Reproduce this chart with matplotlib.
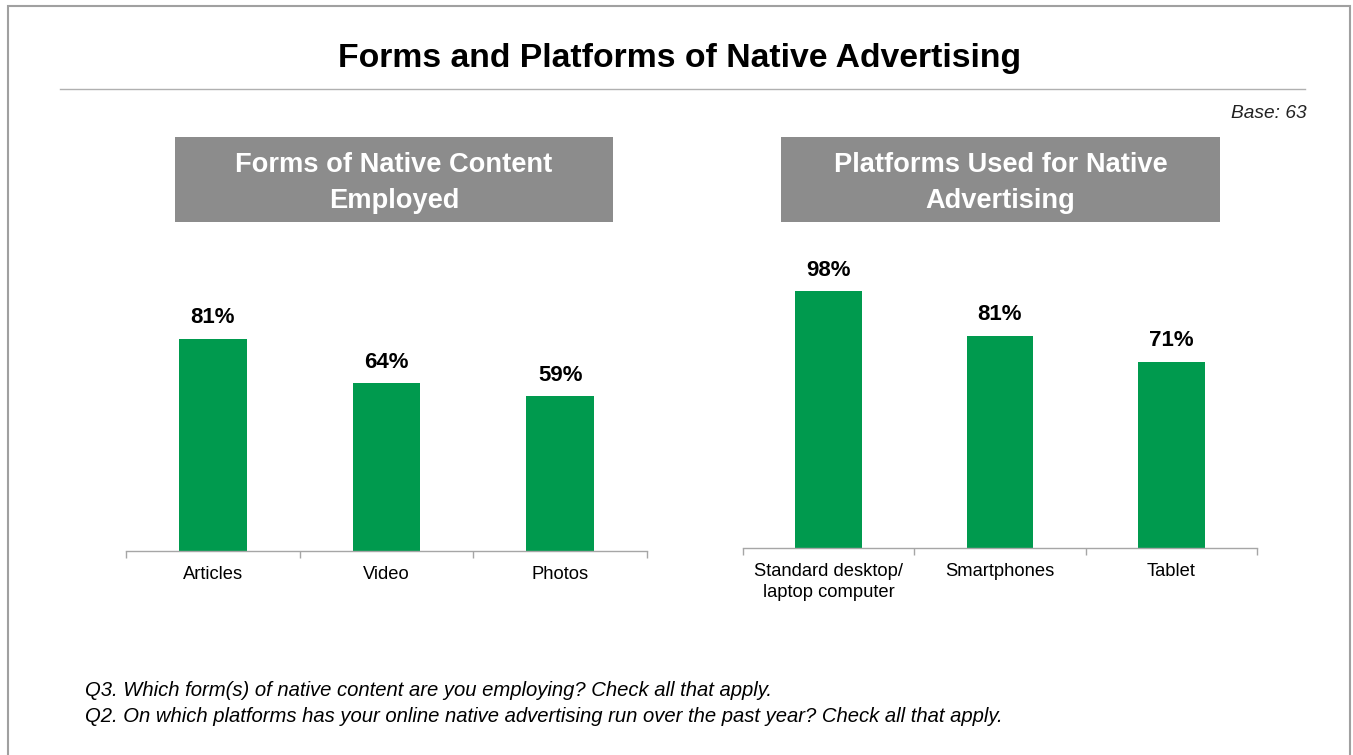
import matplotlib
matplotlib.use("Agg")
import matplotlib.pyplot as plt
from matplotlib.patches import Rectangle
from matplotlib.lines import Line2D
import numpy as np

# ---- data ----
title = "Forms and Platforms of Native Advertising"
base_note = "Base: 63"
left_title = "Forms of Native Content\nEmployed"
left_categories = ["Articles", "Video", "Photos"]
left_values = [81, 64, 59]
right_title = "Platforms Used for Native\nAdvertising"
right_categories = ["Standard desktop/\nlaptop computer", "Smartphones", "Tablet"]
right_values = [98, 81, 71]
footnotes = [
    "Q3. Which form(s) of native content are you employing? Check all that apply.",
    "Q2. On which platforms has your online native advertising run over the past year? Check all that apply.",
]

GREEN = "#009A4E"
HEADER_GRAY = "#8C8C8C"
AXIS_GRAY = "#A6A6A6"
FONT = ["Liberation Sans Narrow", "Liberation Sans", "DejaVu Sans"]
plt.rcParams["font.family"] = FONT

W, H = 1353, 755
fig = plt.figure(figsize=(W / 100, H / 100), dpi=100)
fig.patch.set_facecolor("white")


def fx(x):
    return x / W


def fy(y):
    return 1 - y / H


# outer border
fig.add_artist(Rectangle((fx(8), fy(775)), fx(1350) - fx(8), fy(6) - fy(775),
                         transform=fig.transFigure, fill=False,
                         edgecolor="#A0A0A0", linewidth=1.5, clip_on=False))

# title
fig.text(fx(680), fy(58.5), title, ha="center", va="center",
         fontsize=24.3, fontweight="bold", color="black")
fig.add_artist(Line2D([fx(60), fx(1305)], [fy(89), fy(89)],
                      transform=fig.transFigure, color="#B0B0B0", linewidth=1))
fig.text(fx(1307), fy(114), base_note, ha="right", va="center",
         fontsize=13.8, style="italic", color="#222222")


def panel(x0, x1, baseline, header_x0, header_x1, header_text, cats, vals):
    # header box
    fig.add_artist(Rectangle((fx(header_x0), fy(222)), fx(header_x1) - fx(header_x0),
                             fy(137) - fy(222), transform=fig.transFigure,
                             facecolor=HEADER_GRAY, edgecolor="none"))
    fig.text(fx((header_x0 + header_x1) / 2), fy(183), header_text,
             ha="center", va="center", fontsize=19.6, fontweight="bold",
             color="white", linespacing=1.45)
    scale = 2.62  # px per percent
    top = baseline - 100 * scale
    ax = fig.add_axes([fx(x0), fy(baseline), fx(x1) - fx(x0), fy(top) - fy(baseline)])
    xs = np.arange(len(cats))
    ax.bar(xs, vals, width=0.39, color=GREEN)
    ax.set_xlim(-0.5, len(cats) - 0.5)
    ax.set_ylim(0, 100)
    for x, v in zip(xs, vals):
        ax.text(x, v + 4, f"{v}%", ha="center", va="bottom",
                fontsize=16, fontweight="bold", color="black")
    for s in ["top", "right", "left"]:
        ax.spines[s].set_visible(False)
    ax.spines["bottom"].set_color(AXIS_GRAY)
    ax.spines["bottom"].set_linewidth(1)
    ax.set_yticks([])
    ax.set_xticks(np.arange(len(cats) + 1) - 0.5, minor=False)
    ax.set_xticklabels([""] * (len(cats) + 1))
    ax.tick_params(axis="x", direction="out", length=5, color=AXIS_GRAY, width=1)
    for x, c in zip(xs, cats):
        ax.text(x, -0.057, c, transform=ax.get_xaxis_transform(), ha="center",
                va="top", fontsize=13.2, color="black", linespacing=1.3)
    ax.patch.set_visible(False)
    return ax


panel(126, 647, 551, 175, 613, left_title, left_categories, left_values)
panel(743, 1257, 548, 781, 1220, right_title, right_categories, right_values)

fig.text(fx(85), fy(690), footnotes[0], ha="left", va="center",
         fontsize=14.6, style="italic", color="black")
fig.text(fx(85), fy(716), footnotes[1], ha="left", va="center",
         fontsize=14.6, style="italic", color="black")

fig.savefig("out.png", dpi=100, facecolor="white")
